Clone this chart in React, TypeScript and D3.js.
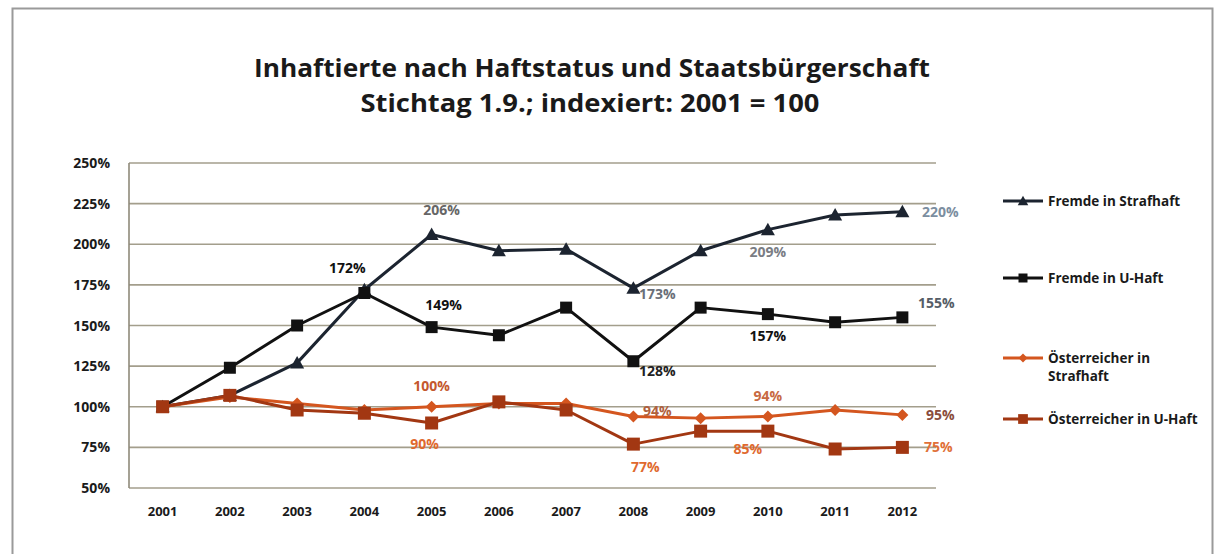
import React from "react";
import * as d3 from "d3";

const years = ["2001","2002","2003","2004","2005","2006","2007","2008","2009","2010","2011","2012"];
const yTicks = [50, 75, 100, 125, 150, 175, 200, 225, 250];

const fremdeStrafhaft = [100, 107, 127, 172, 206, 196, 197, 173, 196, 209, 218, 220];
const fremdeUHaft = [100, 124, 150, 170, 149, 144, 161, 128, 161, 157, 152, 155];
const oestStrafhaft = [100, 106, 102, 98, 100, 102, 102, 94, 93, 94, 98, 95];
const oestUHaft = [100, 107, 98, 96, 90, 103, 98, 77, 85, 85, 74, 75];

const seriesNames = ["Fremde in Strafhaft", "Fremde in U-Haft", "Österreicher in Strafhaft", "Österreicher in U-Haft"];

const W = 1223, H = 554;
const plot = { left: 129, right: 936, top: 163, bottom: 488 };
const FONT = "'Open Sans', 'Noto Sans', sans-serif";

const series = [
  { name: seriesNames[0], values: fremdeStrafhaft, color: "#1c2430", marker: "triangle", msize: 14 },
  { name: seriesNames[1], values: fremdeUHaft, color: "#111111", marker: "square", msize: 12 },
  { name: seriesNames[2], values: oestStrafhaft, color: "#d4561f", marker: "diamond", msize: 12 },
  { name: seriesNames[3], values: oestUHaft, color: "#a23712", marker: "square", msize: 13 },
];

// annotations: series index, year index, offset, color
const annotations = [
  { s: 0, i: 4, dx: 10, dy: -25, color: "#666666" },
  { s: 0, i: 3, dx: -17, dy: -22, color: "#111111" },
  { s: 0, i: 7, dx: 24, dy: 6, color: "#6a6f78" },
  { s: 0, i: 9, dx: 0, dy: 22, color: "#7a7d84" },
  { s: 0, i: 11, dx: 38, dy: 0, color: "#7c8ea0" },
  { s: 1, i: 4, dx: 12, dy: -22, color: "#111111" },
  { s: 1, i: 7, dx: 24, dy: 10, color: "#222222" },
  { s: 1, i: 9, dx: 0, dy: 22, color: "#111111" },
  { s: 1, i: 11, dx: 34, dy: -14, color: "#555d66" },
  { s: 2, i: 4, dx: 0, dy: -21, color: "#c4582e" },
  { s: 2, i: 7, dx: 24, dy: -6, color: "#b0603c" },
  { s: 2, i: 9, dx: 0, dy: -21, color: "#c86a42" },
  { s: 2, i: 11, dx: 38, dy: 0, color: "#8a4c3c" },
  { s: 3, i: 4, dx: -7, dy: 21, color: "#e0692e" },
  { s: 3, i: 7, dx: 12, dy: 23, color: "#e0692e" },
  { s: 3, i: 9, dx: -20, dy: 18, color: "#e0692e" },
  { s: 3, i: 11, dx: 36, dy: 0, color: "#e07038" },
];

function markerPath(type: string, size: number) {
  const s = size / 2;
  if (type === "triangle") return `M0,${-s}L${s},${s * 0.8}L${-s},${s * 0.8}Z`;
  if (type === "diamond") return `M0,${-s}L${s},0L0,${s}L${-s},0Z`;
  return `M${-s},${-s}H${s}V${s}H${-s}Z`;
}

export default function App() {
  const x = d3.scaleBand<string>().domain(years).range([plot.left, plot.right]).padding(0);
  const cx = (yr: string) => (x(yr) as number) + x.bandwidth() / 2;
  const y = d3.scaleLinear().domain([50, 250]).range([plot.bottom, plot.top]);
  const line = d3.line<number>().x((_, i) => cx(years[i])).y((v) => y(v));

  const legendY = [201, 278, 358, 419];

  return (
    <svg width={W} height={H} style={{ position: "absolute", left: 0, top: 0, background: "#fff" }}>
      <rect x={12.5} y={8.5} width={1200} height={560} fill="#fff" stroke="#9a9a9a" strokeWidth={2} />
      <text x={592} y={77} textAnchor="middle" fontFamily={FONT} fontWeight={700} fontSize={25} fill="#1a1a1a"
        textLength={676} lengthAdjust="spacingAndGlyphs">Inhaftierte nach Haftstatus und Staatsbürgerschaft</text>
      <text x={590} y={112} textAnchor="middle" fontFamily={FONT} fontWeight={700} fontSize={25} fill="#1a1a1a"
        textLength={459} lengthAdjust="spacingAndGlyphs">Stichtag 1.9.; indexiert: 2001 = 100</text>

      {yTicks.map((t) => (
        <g key={t}>
          <line x1={plot.left} x2={plot.right} y1={y(t)} y2={y(t)} stroke="#a39e8c" strokeWidth={1.6} />
          <text x={110} y={y(t) + 5} textAnchor="end" fontFamily={FONT} fontWeight={700} fontSize={14} fill="#1a1a1a">{t}%</text>
        </g>
      ))}
      <line x1={plot.left} x2={plot.left} y1={plot.top} y2={plot.bottom} stroke="#8f8a7a" strokeWidth={1.6} />

      {years.map((yr) => (
        <text key={yr} x={cx(yr)} y={516} textAnchor="middle" fontFamily={FONT} fontWeight={700} fontSize={13} fill="#1a1a1a">{yr}</text>
      ))}

      {series.map((s) => (
        <g key={s.name}>
          <path d={line(s.values) || ""} fill="none" stroke={s.color} strokeWidth={3} strokeLinejoin="round" />
          {s.values.map((v, i) => (
            <path key={i} d={markerPath(s.marker, s.msize)} transform={`translate(${cx(years[i])},${y(v)})`} fill={s.color} />
          ))}
        </g>
      ))}

      {annotations.map((a, k) => {
        const v = series[a.s].values[a.i];
        return (
          <text key={k} x={cx(years[a.i]) + a.dx} y={y(v) + a.dy + 5} textAnchor="middle" fontFamily={FONT} fontWeight={700}
            fontSize={14} fill={a.color}>{v}%</text>
        );
      })}

      {series.map((s, k) => (
        <g key={s.name} transform={`translate(1003,${legendY[k]})`}>
          <line x1={0} x2={40} y1={0} y2={0} stroke={s.color} strokeWidth={3} />
          <path d={markerPath(s.marker, s.msize * 0.75)} transform="translate(20,0)" fill={s.color} />
          {k === 2 ? (
            <text x={45} y={5} fontFamily={FONT} fontWeight={700} fontSize={13.5} fill="#1a1a1a">
              <tspan x={45}>Österreicher in</tspan>
              <tspan x={45} dy={18}>Strafhaft</tspan>
            </text>
          ) : (
            <text x={45} y={5} fontFamily={FONT} fontWeight={700} fontSize={13.5} fill="#1a1a1a">{s.name}</text>
          )}
        </g>
      ))}
    </svg>
  );
}
